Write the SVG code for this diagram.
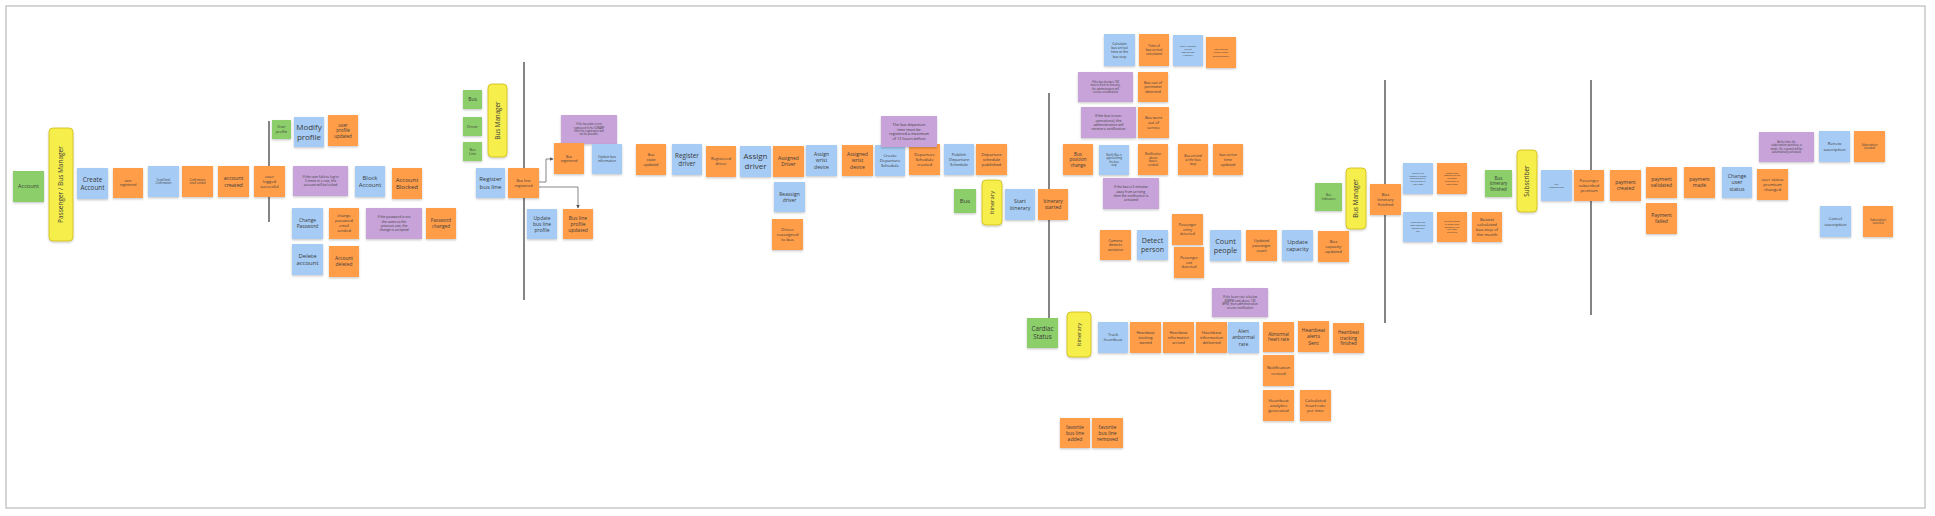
<svg xmlns="http://www.w3.org/2000/svg" width="1935" height="516" viewBox="0 0 1935 516">
<style>
.o{fill:#ff9d48}.b{fill:#a6ccf5}.g{fill:#8ccf6b}.p{fill:#c7a3d9}
.y{fill:#f6ee4c;stroke:#c8b600;stroke-width:.7}
.s{filter:url(#sh)}
text{font-family:"Open Sans","Liberation Sans",sans-serif;text-anchor:middle;fill:#3a3a3a}
.ln{stroke:#333;stroke-width:1.2;fill:none}
.cn{stroke:#555;stroke-width:.7;fill:none;marker-end:url(#ar)}
</style>
<defs>
<filter id="sh" x="-20%" y="-20%" width="140%" height="150%"><feDropShadow dx="0" dy="1.2" stdDeviation="0.8" flood-color="#000" flood-opacity="0.22"/></filter>
<marker id="ar" viewBox="0 0 6 6" refX="5" refY="3" markerWidth="5" markerHeight="5" orient="auto"><path d="M0,0L6,3L0,6z" fill="#555"/></marker>
</defs>
<rect x="6" y="6" width="1919" height="502" fill="#fff" stroke="#c8c8c8" stroke-width="1.5"/>
<g id="connectors">
<line class="ln" x1="269" y1="121" x2="269" y2="222"/>
<line class="ln" x1="524" y1="62" x2="524" y2="300"/>
<line class="ln" x1="1049" y1="93" x2="1049" y2="318"/>
<line class="ln" x1="1385" y1="80" x2="1385" y2="323"/>
<line class="ln" x1="1591" y1="80" x2="1591" y2="315"/>
<path class="cn" d="M539,182H546V159H553"/>
<path class="cn" d="M539,187H578V208"/>
</g>
<g id="n-account"><rect class="g s" x="13" y="171" width="31" height="31"/><text x="28.5" y="188.4" font-size="5.5">Account</text></g>
<g id="n-actor-passenger"><rect class="y s" x="49" y="128" width="24" height="113" rx="4"/><text x="61" y="186.8" font-size="6.5" transform="rotate(-90 61 184.5)">Passenger / Bus Manager</text></g>
<g id="n-create-account"><rect class="b s" x="77" y="168" width="31" height="31"/><text x="92.5" y="181.75" font-size="6.3">Create<tspan x="92.5" dy="7.9">Account</tspan></text></g>
<g id="n-user-registered"><rect class="o s" x="113" y="168" width="30" height="30"/><text x="128" y="182" font-size="3.5">user<tspan x="128" dy="4.4">registered</tspan></text></g>
<g id="n-send-email"><rect class="b s" x="148" y="166" width="31" height="31"/><text x="163.5" y="180.75" font-size="2.6">Send Email<tspan x="163.5" dy="3.3">Confirmation</tspan></text></g>
<g id="n-confirmation-sended"><rect class="o s" x="182" y="166" width="31" height="31"/><text x="197.5" y="180.75" font-size="2.6">Confirmation<tspan x="197.5" dy="3.3">email sended</tspan></text></g>
<g id="n-account-created"><rect class="o s" x="218" y="166" width="31" height="31"/><text x="233.5" y="180.05" font-size="5.3">account<tspan x="233.5" dy="6.6">created</tspan></text></g>
<g id="n-user-logged"><rect class="o s" x="254" y="166" width="31" height="31"/><text x="269.5" y="177.6" font-size="4.3">user<tspan x="269.5" dy="5.4">logged</tspan><tspan x="269.5" dy="5.4">succesful</tspan></text></g>
<g id="n-user-profile"><rect class="g s" x="272" y="120" width="19" height="19"/><text x="281.5" y="128.45" font-size="3.8">User<tspan x="281.5" dy="4.75">profile</tspan></text></g>
<g id="n-modify-profile"><rect class="b s" x="294" y="117" width="30" height="30"/><text x="309" y="129.8" font-size="8">Modify<tspan x="309" dy="10">profile</tspan></text></g>
<g id="n-profile-updated"><rect class="o s" x="328" y="115" width="30" height="31"/><text x="343" y="126.5" font-size="4.5">user<tspan x="343" dy="5.6">profile</tspan><tspan x="343" dy="5.6">updated</tspan></text></g>
<g id="n-rule-login"><rect class="p s" x="293" y="166" width="55" height="30"/><text x="320.5" y="177.95" font-size="3.3">If the user fails to log in<tspan x="320.5" dy="4.2">5 times in a row, the</tspan><tspan x="320.5" dy="4.2">account will be locked</tspan></text></g>
<g id="n-block-account"><rect class="b s" x="355" y="166" width="30" height="31"/><text x="370" y="179.85" font-size="6">Block<tspan x="370" dy="7.5">Account</tspan></text></g>
<g id="n-account-blocked"><rect class="o s" x="392" y="168" width="30" height="31"/><text x="407" y="181.85" font-size="6">Account<tspan x="407" dy="7.5">Blocked</tspan></text></g>
<g id="n-change-password"><rect class="b s" x="292" y="208" width="31" height="31"/><text x="307.5" y="222.2" font-size="4.8">Change<tspan x="307.5" dy="6">Password</tspan></text></g>
<g id="n-password-email"><rect class="o s" x="329" y="208" width="30" height="31"/><text x="344" y="217.4" font-size="4">change<tspan x="344" dy="5">password</tspan><tspan x="344" dy="5">email</tspan><tspan x="344" dy="5">sended</tspan></text></g>
<g id="n-rule-password"><rect class="p s" x="366" y="208" width="56" height="31"/><text x="394" y="218.35" font-size="3.3">If the password is not<tspan x="394" dy="4.2">the same as the</tspan><tspan x="394" dy="4.2">previous one, the</tspan><tspan x="394" dy="4.2">change is accepted</tspan></text></g>
<g id="n-password-changed"><rect class="o s" x="426" y="208" width="30" height="31"/><text x="441" y="222.3" font-size="4.5">Password<tspan x="441" dy="5.6">changed</tspan></text></g>
<g id="n-delete-account"><rect class="b s" x="292" y="244" width="31" height="31"/><text x="307.5" y="257.85" font-size="6">Delete<tspan x="307.5" dy="7.5">account</tspan></text></g>
<g id="n-account-deleted"><rect class="o s" x="329" y="246" width="30" height="31"/><text x="344" y="260.2" font-size="4.8">Account<tspan x="344" dy="6">deleted</tspan></text></g>
<g id="n-bus-agg"><rect class="g s" x="463" y="90" width="19" height="19"/><text x="472.5" y="101.25" font-size="5">Bus</text></g>
<g id="n-driver-agg"><rect class="g s" x="463" y="117" width="19" height="19"/><text x="472.5" y="127.83" font-size="3.8">Driver</text></g>
<g id="n-busline-agg"><rect class="g s" x="463" y="142" width="19" height="19"/><text x="472.5" y="150.5" font-size="3.6">Bus<tspan x="472.5" dy="4.5">Line</tspan></text></g>
<g id="n-actor-busmanager1"><rect class="y s" x="488" y="84" width="19" height="73" rx="4"/><text x="497.5" y="122.7" font-size="6.2" transform="rotate(-90 497.5 120.5)">Bus Manager</text></g>
<g id="n-register-busline"><rect class="b s" x="476" y="168" width="29" height="30"/><text x="490.5" y="181.35" font-size="6">Register<tspan x="490.5" dy="7.5">bus line</tspan></text></g>
<g id="n-busline-registered"><rect class="o s" x="508" y="168" width="31" height="30"/><text x="523.5" y="181.95" font-size="3.8">Bus line<tspan x="523.5" dy="4.75">registered</tspan></text></g>
<g id="n-rule-sunarp"><rect class="p s" x="561" y="115" width="56" height="29"/><text x="589" y="125.45" font-size="2.6">If the bus plate is not<tspan x="589" dy="3.3">registered in the SUNARP</tspan><tspan x="589" dy="3.3">then the registration will</tspan><tspan x="589" dy="3.3">not be possible.</tspan></text></g>
<g id="n-bus-registered"><rect class="o s" x="554" y="143" width="30" height="31"/><text x="569" y="157.5" font-size="3.5">Bus<tspan x="569" dy="4.4">registered</tspan></text></g>
<g id="n-update-bus-info"><rect class="b s" x="592" y="144" width="30" height="30"/><text x="607" y="158.1" font-size="3.3">Update bus<tspan x="607" dy="4.1">information</tspan></text></g>
<g id="n-update-busline-profile"><rect class="b s" x="527" y="209" width="30" height="30"/><text x="542" y="219.5" font-size="5">Update<tspan x="542" dy="6.25">bus line</tspan><tspan x="542" dy="6.25">profile</tspan></text></g>
<g id="n-busline-profile-updated"><rect class="o s" x="563" y="209" width="30" height="30"/><text x="578" y="219.5" font-size="5">Bus line<tspan x="578" dy="6.25">profile</tspan><tspan x="578" dy="6.25">updated</tspan></text></g>
<g id="n-bus-state-updated"><rect class="o s" x="636" y="144" width="30" height="31"/><text x="651" y="156.08" font-size="3.8">Bus<tspan x="651" dy="4.75">state</tspan><tspan x="651" dy="4.75">updated</tspan></text></g>
<g id="n-register-driver"><rect class="b s" x="672" y="144" width="30" height="31"/><text x="687" y="157.75" font-size="6.3">Register<tspan x="687" dy="7.9">driver</tspan></text></g>
<g id="n-registered-driver"><rect class="o s" x="706" y="146" width="30" height="31"/><text x="721" y="160.4" font-size="4">Registered<tspan x="721" dy="5">driver</tspan></text></g>
<g id="n-assign-driver"><rect class="b s" x="740" y="146" width="31" height="31"/><text x="755.5" y="159.3" font-size="8">Assign<tspan x="755.5" dy="10">driver</tspan></text></g>
<g id="n-assigned-driver"><rect class="o s" x="773" y="146" width="31" height="31"/><text x="788.5" y="160.1" font-size="5">Assigned<tspan x="788.5" dy="6.25">Driver</tspan></text></g>
<g id="n-reassign-driver"><rect class="b s" x="774" y="182" width="31" height="30"/><text x="789.5" y="195.6" font-size="5">Reassign<tspan x="789.5" dy="6.25">driver</tspan></text></g>
<g id="n-driver-reassigned"><rect class="o s" x="772" y="219" width="31" height="31"/><text x="787.5" y="230.6" font-size="4.3">Driver<tspan x="787.5" dy="5.4">reassigned</tspan><tspan x="787.5" dy="5.4">to bus</tspan></text></g>
<g id="n-assign-wrist"><rect class="b s" x="806" y="145" width="31" height="31"/><text x="821.5" y="156" font-size="5">Assign<tspan x="821.5" dy="6.25">wrist</tspan><tspan x="821.5" dy="6.25">device</tspan></text></g>
<g id="n-assigned-wrist"><rect class="o s" x="842" y="145" width="31" height="31"/><text x="857.5" y="156" font-size="5">Assigned<tspan x="857.5" dy="6.25">wrist</tspan><tspan x="857.5" dy="6.25">device</tspan></text></g>
<g id="n-create-departure"><rect class="b s" x="875" y="145" width="30" height="31"/><text x="890" y="156.6" font-size="4.3">Create<tspan x="890" dy="5.4">Departure</tspan><tspan x="890" dy="5.4">Schedule</tspan></text></g>
<g id="n-departure-created"><rect class="o s" x="909" y="144" width="31" height="31"/><text x="924.5" y="155.6" font-size="4.3">Departure<tspan x="924.5" dy="5.4">Schedule</tspan><tspan x="924.5" dy="5.4">created</tspan></text></g>
<g id="n-rule-departure"><rect class="p s" x="881" y="116" width="56" height="31"/><text x="909" y="125.93" font-size="3.8">The bus departure<tspan x="909" dy="4.6">time must be</tspan><tspan x="909" dy="4.6">registered a maximum</tspan><tspan x="909" dy="4.6">of 12 hours before</tspan></text></g>
<g id="n-publish-departure"><rect class="b s" x="944" y="144" width="30" height="31"/><text x="959" y="155.72" font-size="4.2">Publish<tspan x="959" dy="5.25">Departure</tspan><tspan x="959" dy="5.25">Schedule</tspan></text></g>
<g id="n-departure-published"><rect class="o s" x="976" y="144" width="31" height="31"/><text x="991.5" y="155.72" font-size="4.2">Departure<tspan x="991.5" dy="5.25">schedule</tspan><tspan x="991.5" dy="5.25">published</tspan></text></g>
<g id="n-bus-agg2"><rect class="g s" x="954" y="189" width="22" height="24"/><text x="965" y="203.1" font-size="6">Bus</text></g>
<g id="n-actor-itinerary1"><rect class="y s" x="982" y="180" width="20" height="45" rx="4"/><text x="992" y="204.6" font-size="6" transform="rotate(-90 992 202.5)">Itinerary</text></g>
<g id="n-start-itinerary"><rect class="b s" x="1005" y="189" width="30" height="31"/><text x="1020" y="203.05" font-size="5.3">Start<tspan x="1020" dy="6.6">itinerary</tspan></text></g>
<g id="n-itinerary-started"><rect class="o s" x="1038" y="189" width="30" height="31"/><text x="1053" y="203.1" font-size="5">Itinerary<tspan x="1053" dy="6.25">started</tspan></text></g>
<g id="n-calc-arrival"><rect class="b s" x="1104" y="34" width="31" height="32"/><text x="1119.5" y="44.8" font-size="3.4">Calculate<tspan x="1119.5" dy="4.25">bus arrival</tspan><tspan x="1119.5" dy="4.25">time at the</tspan><tspan x="1119.5" dy="4.25">bus stop</tspan></text></g>
<g id="n-arrival-calculated"><rect class="o s" x="1139" y="34" width="30" height="32"/><text x="1154" y="46.95" font-size="3.4">Time of<tspan x="1154" dy="4.25">bus arrival</tspan><tspan x="1154" dy="4.25">calculated</tspan></text></g>
<g id="n-rule-deviation"><rect class="p s" x="1078" y="72" width="55" height="30"/><text x="1105.5" y="82.95" font-size="2.6">If the bus deviates 100<tspan x="1105.5" dy="3.3">meters from its itinerary,</tspan><tspan x="1105.5" dy="3.3">the administration will</tspan><tspan x="1105.5" dy="3.3">receive a notification</tspan></text></g>
<g id="n-out-of-perimeter"><rect class="o s" x="1138" y="72" width="30" height="30"/><text x="1153" y="83.58" font-size="3.8">Bus out of<tspan x="1153" dy="4.75">perimeter</tspan><tspan x="1153" dy="4.75">detected</tspan></text></g>
<g id="n-rule-nonop"><rect class="p s" x="1081" y="107" width="55" height="31"/><text x="1108.5" y="117.1" font-size="3.5">If the bus is non-<tspan x="1108.5" dy="4.4">operational, the</tspan><tspan x="1108.5" dy="4.4">administration will</tspan><tspan x="1108.5" dy="4.4">receive a notification</tspan></text></g>
<g id="n-out-of-service"><rect class="o s" x="1138" y="107" width="31" height="31"/><text x="1153.5" y="118.9" font-size="4">Bus went<tspan x="1153.5" dy="5">out of</tspan><tspan x="1153.5" dy="5">service</tspan></text></g>
<g id="n-position-change"><rect class="o s" x="1063" y="144" width="30" height="31"/><text x="1078" y="155.5" font-size="4.5">Bus<tspan x="1078" dy="5.6">position</tspan><tspan x="1078" dy="5.6">change</tspan></text></g>
<g id="n-notify-approaching"><rect class="b s" x="1099" y="145" width="30" height="30"/><text x="1114" y="155.85" font-size="2.7">Notify Bus is<tspan x="1114" dy="3.4">approaching</tspan><tspan x="1114" dy="3.4">the bus</tspan><tspan x="1114" dy="3.4">stop</tspan></text></g>
<g id="n-notification-sended"><rect class="o s" x="1138" y="144" width="30" height="31"/><text x="1153" y="154.85" font-size="3">Notification<tspan x="1153" dy="3.8">about</tspan><tspan x="1153" dy="3.8">buses</tspan><tspan x="1153" dy="3.8">sended</tspan></text></g>
<g id="n-rule-5min"><rect class="p s" x="1103" y="178" width="56" height="31"/><text x="1131" y="188.35" font-size="3.3">If the bus is 5 minutes<tspan x="1131" dy="4.2">away from arriving,</tspan><tspan x="1131" dy="4.2">then the notification is</tspan><tspan x="1131" dy="4.2">activated</tspan></text></g>
<g id="n-camera"><rect class="o s" x="1100" y="230" width="31" height="30"/><text x="1115.5" y="241.58" font-size="3.8">Camera<tspan x="1115.5" dy="4.75">detects</tspan><tspan x="1115.5" dy="4.75">variation</tspan></text></g>
<g id="n-detect-person"><rect class="b s" x="1137" y="230" width="31" height="30"/><text x="1152.5" y="243.08" font-size="7">Detect<tspan x="1152.5" dy="8.75">person</tspan></text></g>
<g id="n-notify-change"><rect class="b s" x="1173" y="35" width="30" height="31"/><text x="1188" y="46.6" font-size="2.5">Notify change<tspan x="1188" dy="3.2">of bus</tspan><tspan x="1188" dy="3.2">destination</tspan><tspan x="1188" dy="3.2">itinerary</tspan></text></g>
<g id="n-notification-gmail"><rect class="o s" x="1206" y="37" width="30" height="31"/><text x="1221" y="50.2" font-size="2.5">Notification<tspan x="1221" dy="3.2">about buses</tspan><tspan x="1221" dy="3.2">sended(gmail)</tspan></text></g>
<g id="n-bus-arrived"><rect class="o s" x="1178" y="144" width="30" height="31"/><text x="1193" y="156.55" font-size="3.3">Bus arrived<tspan x="1193" dy="4.1">at the bus</tspan><tspan x="1193" dy="4.1">stop</tspan></text></g>
<g id="n-arrive-time-updated"><rect class="o s" x="1213" y="144" width="30" height="31"/><text x="1228" y="156.08" font-size="3.8">bus arrive<tspan x="1228" dy="4.75">time</tspan><tspan x="1228" dy="4.75">updated</tspan></text></g>
<g id="n-passenger-entry"><rect class="o s" x="1172" y="214" width="31" height="31"/><text x="1187.5" y="226.2" font-size="3.7">Passenger<tspan x="1187.5" dy="4.6">entry</tspan><tspan x="1187.5" dy="4.6">detected</tspan></text></g>
<g id="n-passenger-exit"><rect class="o s" x="1174" y="247" width="30" height="31"/><text x="1189" y="259.2" font-size="3.7">Passenger<tspan x="1189" dy="4.6">exit</tspan><tspan x="1189" dy="4.6">detected</tspan></text></g>
<g id="n-count-people"><rect class="b s" x="1210" y="230" width="31" height="31"/><text x="1225.5" y="243.5" font-size="7.3">Count<tspan x="1225.5" dy="9.1">people</tspan></text></g>
<g id="n-passenger-count"><rect class="o s" x="1246" y="230" width="31" height="31"/><text x="1261.5" y="242.08" font-size="3.8">Updated<tspan x="1261.5" dy="4.75">passenger</tspan><tspan x="1261.5" dy="4.75">count</tspan></text></g>
<g id="n-update-capacity"><rect class="b s" x="1282" y="230" width="31" height="31"/><text x="1297.5" y="243.85" font-size="6">Update<tspan x="1297.5" dy="7.5">capacity</tspan></text></g>
<g id="n-capacity-updated"><rect class="o s" x="1318" y="231" width="31" height="31"/><text x="1333.5" y="242.72" font-size="4.2">Bus<tspan x="1333.5" dy="5.25">capacity</tspan><tspan x="1333.5" dy="5.25">updated</tspan></text></g>
<g id="n-bus-indicators"><rect class="g s" x="1315" y="183" width="27" height="28"/><text x="1328.5" y="196.18" font-size="3">Bus<tspan x="1328.5" dy="3.75">Indicators</tspan></text></g>
<g id="n-actor-busmanager2"><rect class="y s" x="1346" y="168" width="20" height="61" rx="4"/><text x="1356" y="200.7" font-size="6.3" transform="rotate(-90 1356 198.5)">Bus Manager</text></g>
<g id="n-itinerary-finished"><rect class="o s" x="1370" y="184" width="31" height="31"/><text x="1385.5" y="195.72" font-size="4.2">Bus<tspan x="1385.5" dy="5.25">itinerary</tspan><tspan x="1385.5" dy="5.25">finished</tspan></text></g>
<g id="n-calc-boarded"><rect class="b s" x="1403" y="163" width="30" height="31"/><text x="1418" y="173.84" font-size="2.1">Calculate the<tspan x="1418" dy="2.7">number of people</tspan><tspan x="1418" dy="2.7">who boarded at</tspan><tspan x="1418" dy="2.7">the bus stop by</tspan><tspan x="1418" dy="2.7">time range</tspan></text></g>
<g id="n-boarded-calculated"><rect class="o s" x="1437" y="163" width="30" height="31"/><text x="1452" y="173.5" font-size="2.3">People who<tspan x="1452" dy="2.9">boarded at the</tspan><tspan x="1452" dy="2.9">bus stop</tspan><tspan x="1452" dy="2.9">calculated by</tspan><tspan x="1452" dy="2.9">time range</tspan></text></g>
<g id="n-calc-average"><rect class="b s" x="1403" y="212" width="30" height="30"/><text x="1418" y="223.45" font-size="2.3">Calculate bus<tspan x="1418" dy="2.9">stop boarding</tspan><tspan x="1418" dy="2.9">average per</tspan><tspan x="1418" dy="2.9">day</tspan></text></g>
<g id="n-average-calculated"><rect class="o s" x="1437" y="212" width="30" height="30"/><text x="1452" y="222.34" font-size="2.1">average number<tspan x="1452" dy="2.7">of people who</tspan><tspan x="1452" dy="2.7">boarded at the</tspan><tspan x="1452" dy="2.7">bus stops</tspan><tspan x="1452" dy="2.7">calculated</tspan></text></g>
<g id="n-busiest"><rect class="o s" x="1472" y="212" width="30" height="30"/><text x="1487" y="220.6" font-size="4.2">Busiest<tspan x="1487" dy="5.25">calculated</tspan><tspan x="1487" dy="5.25">bus stop of</tspan><tspan x="1487" dy="5.25">the month</tspan></text></g>
<g id="n-itinerary-finished-agg"><rect class="g s" x="1485" y="170" width="27" height="27"/><text x="1498.5" y="179.5" font-size="4.5">Bus<tspan x="1498.5" dy="5.6">itinerary</tspan><tspan x="1498.5" dy="5.6">finished</tspan></text></g>
<g id="n-actor-subscriber"><rect class="y s" x="1517" y="150" width="20" height="62" rx="4"/><text x="1527" y="183.2" font-size="6.3" transform="rotate(-90 1527 181)">Subscriber</text></g>
<g id="n-pay-subscription"><rect class="b s" x="1541" y="170" width="31" height="31"/><text x="1556.5" y="184.8" font-size="2.5">Pay<tspan x="1556.5" dy="3.2">subscription</tspan></text></g>
<g id="n-subscribed-premium"><rect class="o s" x="1574" y="170" width="30" height="31"/><text x="1589" y="181.9" font-size="4">Passenger<tspan x="1589" dy="5">subscribed</tspan><tspan x="1589" dy="5">premium</tspan></text></g>
<g id="n-payment-created"><rect class="o s" x="1610" y="170" width="31" height="31"/><text x="1625.5" y="184.1" font-size="5">payment<tspan x="1625.5" dy="6.25">created</tspan></text></g>
<g id="n-payment-validated"><rect class="o s" x="1646" y="167" width="31" height="31"/><text x="1661.5" y="181.1" font-size="5">payment<tspan x="1661.5" dy="6.25">validated</tspan></text></g>
<g id="n-payment-failed"><rect class="o s" x="1646" y="203" width="31" height="31"/><text x="1661.5" y="217.1" font-size="5">Payment<tspan x="1661.5" dy="6.25">failed</tspan></text></g>
<g id="n-payment-made"><rect class="o s" x="1684" y="167" width="31" height="31"/><text x="1699.5" y="181.1" font-size="5">payment<tspan x="1699.5" dy="6.25">made</tspan></text></g>
<g id="n-change-status"><rect class="b s" x="1722" y="167" width="30" height="31"/><text x="1737" y="177.75" font-size="5.3">Change<tspan x="1737" dy="6.6">user</tspan><tspan x="1737" dy="6.6">status</tspan></text></g>
<g id="n-status-changed"><rect class="o s" x="1757" y="169" width="31" height="31"/><text x="1772.5" y="180.6" font-size="4.3">user status<tspan x="1772.5" dy="5.4">premium</tspan><tspan x="1772.5" dy="5.4">changed</tspan></text></g>
<g id="n-rule-renewal"><rect class="p s" x="1759" y="132" width="55" height="30"/><text x="1786.5" y="142.85" font-size="2.7">At the time the<tspan x="1786.5" dy="3.4">subscription purchase is</tspan><tspan x="1786.5" dy="3.4">made, the renewal will be</tspan><tspan x="1786.5" dy="3.4">automatically activated.</tspan></text></g>
<g id="n-renew"><rect class="b s" x="1819" y="131" width="31" height="31"/><text x="1834.5" y="145.3" font-size="4.3">Renew<tspan x="1834.5" dy="5.4">suscription</tspan></text></g>
<g id="n-renewed"><rect class="o s" x="1854" y="131" width="31" height="31"/><text x="1869.5" y="145.75" font-size="2.7">Subscription<tspan x="1869.5" dy="3.4">renewed</tspan></text></g>
<g id="n-cancel"><rect class="b s" x="1820" y="206" width="31" height="31"/><text x="1835.5" y="220.3" font-size="4.3">Cancel<tspan x="1835.5" dy="5.4">suscription</tspan></text></g>
<g id="n-canceled"><rect class="o s" x="1863" y="206" width="30" height="31"/><text x="1878" y="220.75" font-size="2.7">Subscription<tspan x="1878" dy="3.4">canceled</tspan></text></g>
<g id="n-cardiac-status"><rect class="g s" x="1027" y="318" width="31" height="30"/><text x="1042.5" y="331.25" font-size="6.3">Cardiac<tspan x="1042.5" dy="7.9">Status</tspan></text></g>
<g id="n-actor-itinerary2"><rect class="y s" x="1067" y="312" width="24" height="45" rx="4"/><text x="1079" y="336.6" font-size="6" transform="rotate(-90 1079 334.5)">Itinerary</text></g>
<g id="n-track-heartbeat"><rect class="b s" x="1098" y="322" width="30" height="31"/><text x="1113" y="336.4" font-size="4">Track<tspan x="1113" dy="5">heartbeat</tspan></text></g>
<g id="n-tracking-started"><rect class="o s" x="1130" y="322" width="31" height="31"/><text x="1145.5" y="334.08" font-size="3.8">Heartbeat<tspan x="1145.5" dy="4.75">tracking</tspan><tspan x="1145.5" dy="4.75">started</tspan></text></g>
<g id="n-info-arrived"><rect class="o s" x="1163" y="322" width="31" height="31"/><text x="1178.5" y="334.08" font-size="3.8">Heartbeat<tspan x="1178.5" dy="4.75">information</tspan><tspan x="1178.5" dy="4.75">arrived</tspan></text></g>
<g id="n-info-delivered"><rect class="o s" x="1196" y="322" width="31" height="31"/><text x="1211.5" y="333.72" font-size="4.2">Heartbeat<tspan x="1211.5" dy="5.25">information</tspan><tspan x="1211.5" dy="5.25">delivered</tspan></text></g>
<g id="n-alert-abnormal"><rect class="b s" x="1228" y="322" width="31" height="31"/><text x="1243.5" y="333" font-size="5">Alert<tspan x="1243.5" dy="6.25">anbormal</tspan><tspan x="1243.5" dy="6.25">rate</tspan></text></g>
<g id="n-rule-heart"><rect class="p s" x="1212" y="288" width="56" height="29"/><text x="1240" y="297.85" font-size="3">If the heart rate is below<tspan x="1240" dy="3.8">60BPM and above 130</tspan><tspan x="1240" dy="3.8">BPM, then administration</tspan><tspan x="1240" dy="3.8">receive notification</tspan></text></g>
<g id="n-abnormal-rate"><rect class="o s" x="1263" y="322" width="31" height="30"/><text x="1278.5" y="335.8" font-size="4.5">Abnormal<tspan x="1278.5" dy="5.6">heart rate</tspan></text></g>
<g id="n-alerts-sent"><rect class="o s" x="1298" y="321" width="31" height="31"/><text x="1313.5" y="332" font-size="5">Heartbeat<tspan x="1313.5" dy="6.25">alerts</tspan><tspan x="1313.5" dy="6.25">Sent</tspan></text></g>
<g id="n-tracking-finished"><rect class="o s" x="1333" y="323" width="31" height="30"/><text x="1348.5" y="334" font-size="4.5">Heartbeat<tspan x="1348.5" dy="5.6">tracking</tspan><tspan x="1348.5" dy="5.6">finished</tspan></text></g>
<g id="n-notification-recived"><rect class="o s" x="1263" y="355" width="31" height="31"/><text x="1278.5" y="369.3" font-size="4.3">Notification<tspan x="1278.5" dy="5.4">recived</tspan></text></g>
<g id="n-analytics"><rect class="o s" x="1263" y="390" width="31" height="31"/><text x="1278.5" y="401.6" font-size="4.3">Heartbeat<tspan x="1278.5" dy="5.4">analytics</tspan><tspan x="1278.5" dy="5.4">generated</tspan></text></g>
<g id="n-heart-rate-calc"><rect class="o s" x="1300" y="390" width="31" height="31"/><text x="1315.5" y="401.6" font-size="4.3">Calculated<tspan x="1315.5" dy="5.4">heart rate</tspan><tspan x="1315.5" dy="5.4">per time</tspan></text></g>
<g id="n-fav-added"><rect class="o s" x="1060" y="418" width="30" height="30"/><text x="1075" y="428.5" font-size="5">favorite<tspan x="1075" dy="6.25">bus line</tspan><tspan x="1075" dy="6.25">added</tspan></text></g>
<g id="n-fav-removed"><rect class="o s" x="1092" y="418" width="31" height="30"/><text x="1107.5" y="428.5" font-size="5">favorite<tspan x="1107.5" dy="6.25">bus line</tspan><tspan x="1107.5" dy="6.25">removed</tspan></text></g>
</svg>
